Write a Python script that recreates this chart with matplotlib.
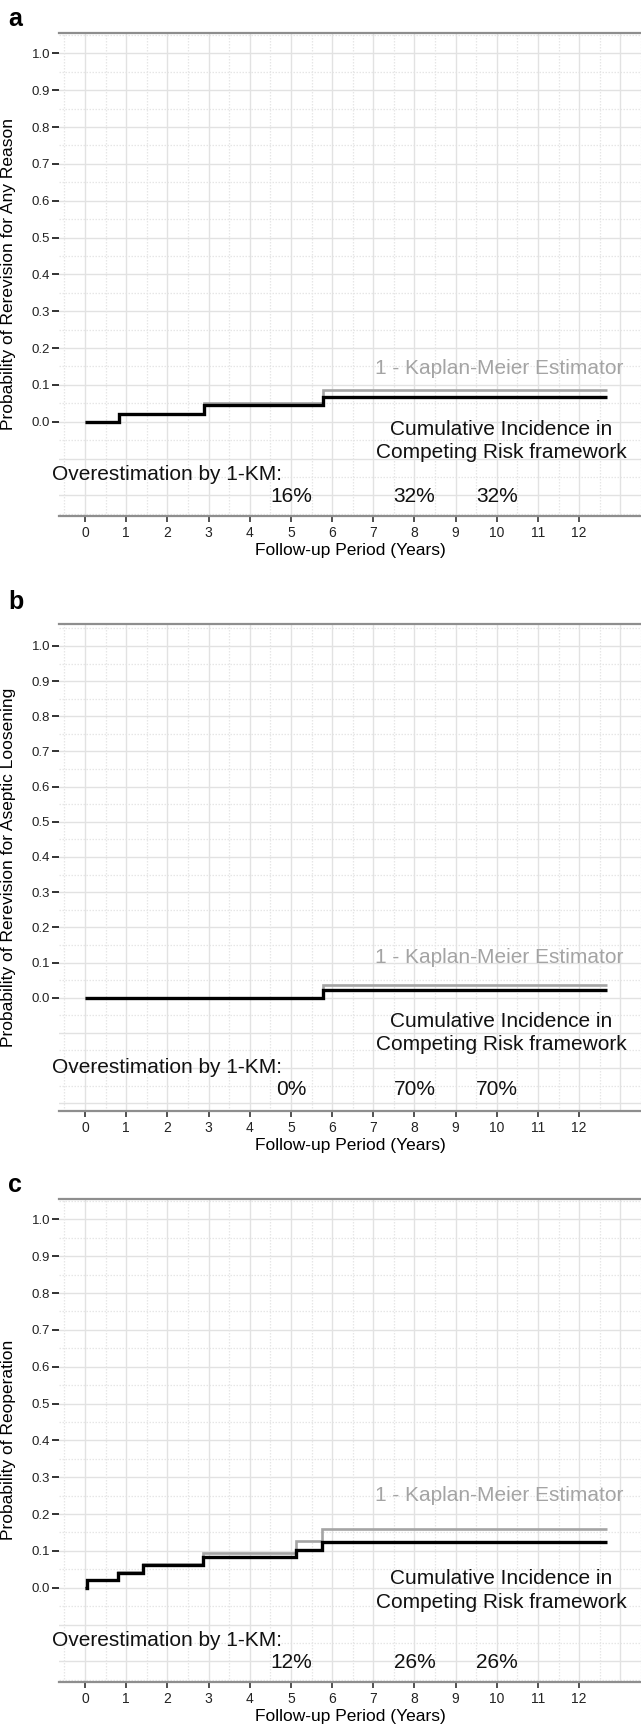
import numpy as np
import matplotlib
matplotlib.use("Agg")
import matplotlib.pyplot as plt

plt.rcParams['font.family'] = ['Liberation Sans', 'DejaVu Sans']

# ---------------- data ----------------
panel_letters = ['a', 'b', 'c']
y_labels = ['Probability of Rerevision for Any Reason',
            'Probability of Rerevision for Aseptic Loosening',
            'Probability of Reoperation']

a_times = [0.0, 0.83, 2.89, 5.77, 12.68]
a_ci = [0.0, 0.021, 0.044, 0.066, 0.066]
a_km = [0.0, 0.022, 0.051, 0.087, 0.087]

b_times = [0.0, 5.77, 12.68]
b_ci = [0.0, 0.021, 0.021]
b_km = [0.0, 0.036, 0.036]

c_times = [0.0, 0.05, 0.81, 1.40, 2.86, 5.12, 5.75, 12.68]
c_ci = [0.0, 0.020, 0.041, 0.062, 0.082, 0.101, 0.124, 0.124]
c_km = [0.0, 0.020, 0.042, 0.064, 0.094, 0.126, 0.158, 0.158]

overest_years = [5, 8, 10]
a_overest = ['16%', '32%', '32%']
b_overest = ['0%', '70%', '70%']
c_overest = ['12%', '26%', '26%']

x_ticks = list(range(0, 13))
y_ticks = [0.0, 0.1, 0.2, 0.3, 0.4, 0.5, 0.6, 0.7, 0.8, 0.9, 1.0]

# annotation vertical positions (data units) per panel
km_text_y = [0.145, 0.115, 0.25]
ci_text_y = [-0.052, -0.100, -0.007]
over_text_y = [-0.143, -0.198, -0.143]
pct_text_y = [-0.204, -0.260, -0.204]
y_lims = [(-0.256, 1.056), (-0.323, 1.063), (-0.256, 1.056)]

panels = [
    (a_times, a_ci, a_km, a_overest),
    (b_times, b_ci, b_km, b_overest),
    (c_times, c_ci, c_km, c_overest),
]

# ---------------- layout ----------------
W, H = 641, 1726
fig = plt.figure(figsize=(W / 100, H / 100), dpi=100)
ax_left_px = 59
ax_tops = [32.7, 623.8, 1198.7]
ax_bots = [516.0, 1111.3, 1682.0]
letter_y = [19, 602, 1185]

for i, (times, ci, km, over) in enumerate(panels):
    top, bot = ax_tops[i], ax_bots[i]
    ax = fig.add_axes([ax_left_px / W, 1 - bot / H, (W - ax_left_px) / W, (bot - top) / H])
    ax.set_xlim(-0.632, 13.5)
    ax.set_ylim(*y_lims[i])

    # grid
    grid_major_y = [v / 10 for v in range(-3, 11)]
    grid_minor_y = [v / 10 + 0.05 for v in range(-4, 11)]
    grid_major_x = list(range(0, 14))
    grid_minor_x = [v + 0.5 for v in range(-1, 14)]
    for v in grid_major_y:
        ax.axhline(v, color='#e2e2e2', lw=1.0, zorder=0)
    for v in grid_minor_y:
        ax.axhline(v, color='#e6e6e6', lw=0.9, ls=(0, (1.2, 1.2)), zorder=0)
    for v in grid_major_x:
        ax.axvline(v, color='#e2e2e2', lw=1.0, zorder=0)
    for v in grid_minor_x:
        ax.axvline(v, color='#e6e6e6', lw=0.9, ls=(0, (1.2, 1.2)), zorder=0)

    # curves
    ax.step(times, km, where='post', color='#a4a4a4', lw=1.9, zorder=3,
            solid_capstyle='butt', solid_joinstyle='miter')
    ax.step(times, ci, where='post', color='#000000', lw=2.4, zorder=4,
            solid_capstyle='butt', solid_joinstyle='miter')

    # spines
    for s in ['left', 'right']:
        ax.spines[s].set_visible(False)
    for s in ['top', 'bottom']:
        ax.spines[s].set_color('#8e8e8e')
        ax.spines[s].set_linewidth(1.6)

    ax.set_xticks(x_ticks)
    ax.set_xticklabels([str(v) for v in x_ticks])
    ax.set_yticks(y_ticks)
    ax.set_yticklabels([f'{v:.1f}' for v in y_ticks])
    ax.tick_params(axis='y', direction='out', length=5, width=1.3, color='#222222',
                   labelsize=9.5, pad=1.5, labelcolor='#222222')
    ax.tick_params(axis='x', direction='out', length=4, width=1.1, color='#222222',
                   labelsize=10, pad=3, labelcolor='#222222')

    ax.set_xlabel('Follow-up Period (Years)', fontsize=12.5, labelpad=2.5)
    ax.set_ylabel(y_labels[i], fontsize=12.5, labelpad=1)
    ax.yaxis.set_label_coords(-(ax_left_px - 16.5) / (W - ax_left_px), 0.5)

    # annotations
    ax.text(10.05, km_text_y[i], '1 - Kaplan-Meier Estimator', color='#a4a4a4',
            fontsize=15, ha='center', va='center', zorder=5)
    ax.text(10.1, ci_text_y[i], 'Cumulative Incidence in\nCompeting Risk framework',
            color='#111111', fontsize=15, ha='center', va='center', linespacing=1.3, zorder=5)
    ax.text(-0.81, over_text_y[i], 'Overestimation by 1-KM:', color='#111111', fontsize=15,
            ha='left', va='center', clip_on=False, zorder=5)
    for yr, txt in zip(overest_years, over):
        ax.text(yr, pct_text_y[i], txt, color='#111111', fontsize=15, ha='center',
                va='center', zorder=5)

    fig.text(8 / W, 1 - letter_y[i] / H, panel_letters[i], fontsize=18,
             fontweight='bold', ha='left', va='center')

fig.savefig('out.png', dpi=100)
